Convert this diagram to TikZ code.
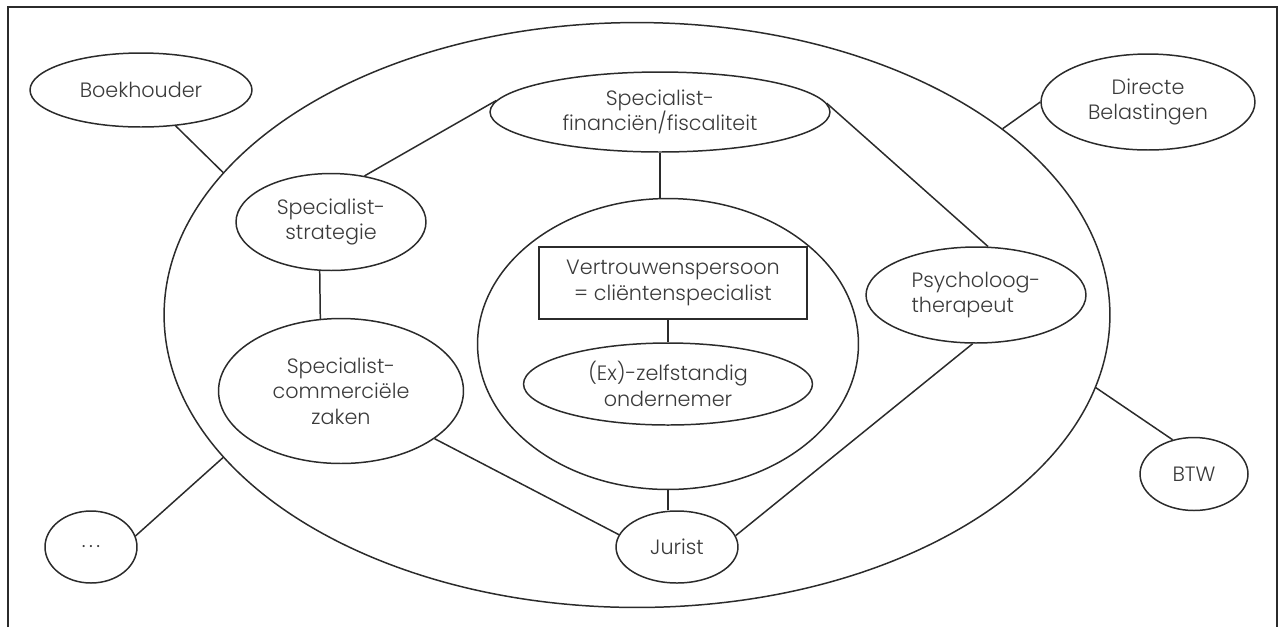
\documentclass[tikz,border=0pt]{standalone}
\usepackage{fontspec}
\setmainfont{Poppins}[UprightFont=* Light]
\usetikzlibrary{shapes.geometric}
\definecolor{netLine}{HTML}{2B2B2B}
\definecolor{netText}{HTML}{3A3A3A}

\begin{document}
\begin{tikzpicture}[
    x=0.02cm, y=-0.02cm,
    every node/.style={font=\fontsize{11.8}{14.6}\selectfont, color=netText},
    bubble/.style={ellipse, draw=netLine, line width=0.85pt, inner sep=0pt, align=center},
    link/.style={netLine, line width=0.85pt},
]
\useasboundingbox (0,0) rectangle (1284,627);

% ----------------------------------------------------------------------
% Frame (open at the bottom)
% ----------------------------------------------------------------------
\draw[link] (8,627) -- (8,7) -- (1277,7) -- (1277,627);

% ----------------------------------------------------------------------
% Network: outer ring, inner circle around the client
% ----------------------------------------------------------------------
\node[bubble, minimum width=18.92cm, minimum height=11.7cm] (outer) at (637,315) {};
\node[bubble, minimum width=7.62cm, minimum height=5.82cm] (inner) at (668,344) {};

\node[draw=netLine, line width=0.85pt, minimum width=5.36cm, minimum height=1.44cm,
      inner sep=0pt, align=center] (trust) at (673,283)
    {Vertrouwenspersoon\\= cliëntenspecialist};
\node[bubble, minimum width=5.78cm, minimum height=1.64cm] (client) at (668,384)
    {(Ex)-zelfstandig\\ondernemer};

% Specialists inside the ring
\node[bubble, minimum width=6.8cm, minimum height=1.6cm] (fin) at (660,112)
    {Specialist-\\financiën/fiscaliteit};
\node[bubble, minimum width=3.8cm, minimum height=1.94cm] (strat) at (331,222)
    {Specialist-\\strategie};
\node[bubble, minimum width=4.9cm, minimum height=2.9cm] (comm) at (341,391)
    {Specialist-\\commerciële\\zaken};
\node[bubble, minimum width=4.4cm, minimum height=1.92cm, align=left] (psy) at (976,295)
    {Psycholoog-\\therapeut};
\node[bubble, minimum width=2.44cm, minimum height=1.44cm] (jur) at (677,547) {Jurist};

% Outside the ring
\node[bubble, minimum width=4.44cm, minimum height=1.48cm] (boek) at (141,90) {Boekhouder};
\node[bubble, minimum width=4.28cm, minimum height=1.92cm] (dirb) at (1148,102)
    {Directe\\Belastingen};
\node[bubble, minimum width=2.16cm, minimum height=1.46cm] (btw) at (1194,474) {BTW};
\node[bubble, minimum width=1.84cm, minimum height=1.44cm] (etc) at (91,547) {.\,.\,.};

% ----------------------------------------------------------------------
% Connectors
% ----------------------------------------------------------------------
\draw[link] (boek.-46.6) -- (outer.161.1);
\draw[link] (dirb.west) -- (outer.27.6);
\draw[link] (btw.122) -- (outer.-9.5);
\draw[link] (etc.14.6) -- (outer.199.9);

\draw[link] (fin.176.9) -- (strat.54.1);
\draw[link] (fin.south) -- (fin.south |- inner.north);
\draw[link] (fin.3.4) -- (psy.76);
\draw[link] (strat.257.3) -- (comm.106.3);
\draw[link] (comm.-27.6) -- (jur.168.7);
\draw[link] (inner.south) -- (inner.south |- jur.north);
\draw[link] (psy.266.4) -- (jur.11.3);
\draw[link] (client.north) -- (client.north |- trust.south);

\end{tikzpicture}
\end{document}
